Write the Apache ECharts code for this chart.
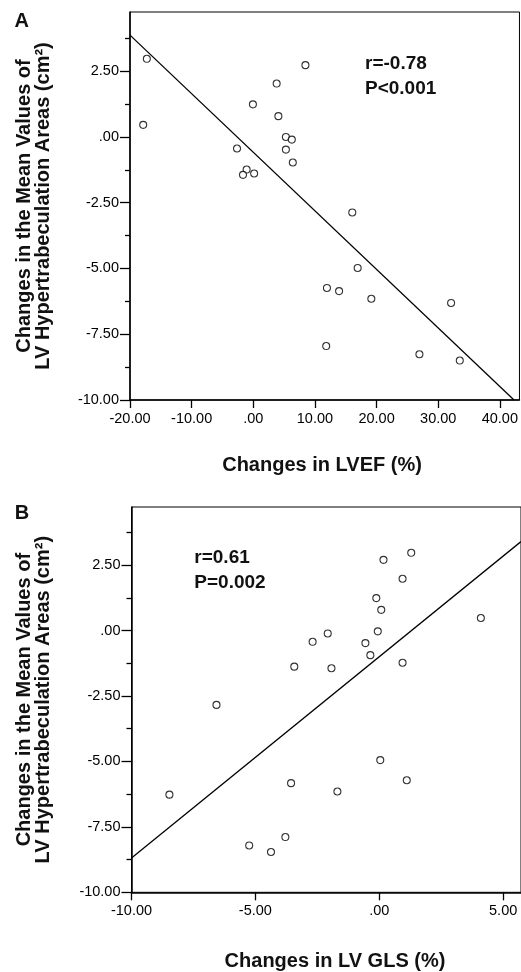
<!DOCTYPE html>
<html>
<head>
<meta charset="utf-8">
<script src="https://cdn.jsdelivr.net/npm/echarts@6/dist/echarts.min.js"></script>
<style>
  html, body { margin: 0; padding: 0; background: #fff; }
  #chart { width: 521px; height: 972px; }
</style>
</head>
<body>
<div id="chart"></div>
<script>
// ---- Data ----
// Panel A: change in LVEF (%) vs change in LV hypertrabeculation area (cm²)
const lvefChange = [-17.27, -17.86, 8.46, 3.79, -0.06, 4.07, 5.29, 6.25, 5.29, -2.64, 6.41, -1.08, -1.67, 0.14, 16.06, 16.93, 11.95, 13.92, 19.15, 32.09, 11.83, 26.95, 33.5];
const areaChangeA = [2.97, 0.46, 2.73, 2.03, 1.24, 0.79, 0.0, -0.10, -0.48, -0.44, -0.97, -1.24, -1.44, -1.39, -2.87, -4.98, -5.74, -5.86, -6.15, -6.31, -7.95, -8.26, -8.50];
// Panel B: change in LV GLS (%) vs change in LV hypertrabeculation area (cm²)
const glsChange = [1.29, 0.17, 0.94, -0.12, 0.08, 4.10, -0.06, -2.08, -2.69, -0.56, -0.36, -3.43, -1.93, 0.94, -6.57, 0.04, -3.56, -1.69, 1.11, -8.47, -5.25, -4.37, -3.79];
const areaChangeB = [2.97, 2.70, 1.98, 1.24, 0.79, 0.48, -0.03, -0.11, -0.43, -0.48, -0.94, -1.38, -1.44, -1.23, -2.84, -4.95, -5.83, -6.15, -5.72, -6.27, -8.21, -8.46, -7.89];
// Fitted regression line end points (x, y)
const fitAx = [-20, 42.3];
const fitAy = [3.87, -10];
const fitBx = [-10, 5.72];
const fitBy = [-8.69, 3.40];
// Axis tick values
const yLabelTicks = [-10, -7.5, -5, -2.5, 0, 2.5];
const yMinorTicks = [-8.75, -6.25, -3.75, -1.25, 1.25, 3.75];
const xTicksA = [-20, -10, 0, 10, 20, 30, 40];
const xTicksB = [-10, -5, 0, 5];
// Texts
const yTitle = 'Changes in the Mean Values of\nLV Hypertrabeculation Areas (cm²)';
const xTitleA = 'Changes in LVEF (%)';
const xTitleB = 'Changes in LV GLS (%)';
const statA = 'r=-0.78\nP<0.001';
const statB = 'r=0.61\nP=0.002';

// ---- Chart ----
const FONT = '"Liberation Sans", Arial, Helvetica, sans-serif';
const fmt = v => (Math.abs(v) < 1e-9 ? '.00' : v.toFixed(2));
const zip = (a, b) => a.map((v, i) => [v, b[i]]);

function xAxisDef(grid, min, max, ticks, name, pad, gap) {
  return {
    type: 'value', gridIndex: grid, min: min, max: max,
    position: 'bottom',
    axisLine: { show: true, onZero: false, lineStyle: { color: '#000', width: 1.5 } },
    axisTick: { show: true, length: 8, customValues: ticks, lineStyle: { color: '#000', width: 1.3 } },
    axisLabel: { show: true, customValues: ticks, formatter: fmt, margin: 11,
      color: '#000', fontFamily: FONT, fontSize: 14.5 },
    splitLine: { show: false },
    name: name, nameLocation: 'middle', nameGap: gap,
    nameTextStyle: { color: '#111', fontFamily: FONT, fontSize: 20, fontWeight: 'bold', padding: pad }
  };
}
function yAxisDef(grid, max, gap) {
  return {
    type: 'value', gridIndex: grid, min: -10, max: max, position: 'left',
    axisLine: { show: true, onZero: false, lineStyle: { color: '#000', width: 1.5 } },
    axisTick: { show: true, length: 10, customValues: yLabelTicks, lineStyle: { color: '#000', width: 1.3 } },
    axisLabel: { show: true, customValues: yLabelTicks, formatter: fmt, margin: 11,
      color: '#000', fontFamily: FONT, fontSize: 14.5 },
    splitLine: { show: false },
    name: yTitle, nameLocation: 'middle', nameGap: gap, nameRotate: 90,
    nameTextStyle: { color: '#111', fontFamily: FONT, fontSize: 20, fontWeight: 'bold',
      lineHeight: 19, align: 'center' }
  };
}
function yMinorDef(grid, max) {
  return {
    type: 'value', gridIndex: grid, min: -10, max: max, position: 'left',
    axisLine: { show: false, onZero: false },
    axisTick: { show: true, length: 5, customValues: yMinorTicks, lineStyle: { color: '#000', width: 1.3 } },
    axisLabel: { show: false },
    splitLine: { show: false }
  };
}
const pointStyle = { color: '#fff', borderColor: '#000', borderWidth: 1.1 };

const option = {
  animation: false,
  backgroundColor: '#fff',
  textStyle: { fontFamily: FONT },
  grid: [
    { left: 130, top: 12, width: 393, height: 388, show: true, borderColor: '#000', borderWidth: 1, backgroundColor: '#fff' },
    { left: 131.5, top: 507, width: 391.5, height: 386, show: true, borderColor: '#000', borderWidth: 1, backgroundColor: '#fff' }
  ],
  xAxis: [
    xAxisDef(0, -20, 43.18, xTicksA, xTitleA, [0, 5.4, 0, 0], 55),
    xAxisDef(1, -10, 5.72, xTicksB, xTitleB, [0, 0, 0, 17.5], 58.7)
  ],
  yAxis: [
    yAxisDef(0, 4.75, 76.75),
    yMinorDef(0, 4.75),
    yAxisDef(1, 4.72, 78.25),
    yMinorDef(1, 4.72)
  ],
  series: [
    { type: 'line', xAxisIndex: 0, yAxisIndex: 0, data: zip(fitAx, fitAy), showSymbol: false,
      lineStyle: { color: '#000', width: 1.3 }, silent: true, z: 2 },
    { type: 'scatter', xAxisIndex: 0, yAxisIndex: 0, data: zip(lvefChange, areaChangeA),
      symbol: 'circle', symbolSize: 7, itemStyle: pointStyle, z: 3 },
    { type: 'line', xAxisIndex: 1, yAxisIndex: 2, data: zip(fitBx, fitBy), showSymbol: false,
      lineStyle: { color: '#000', width: 1.3 }, silent: true, z: 2 },
    { type: 'scatter', xAxisIndex: 1, yAxisIndex: 2, data: zip(glsChange, areaChangeB),
      symbol: 'circle', symbolSize: 7, itemStyle: pointStyle, z: 3 }
  ],
  graphic: [
    { type: 'text', x: 21.7, y: 21.7, style: { text: 'A', font: 'bold 20px ' + FONT, fill: '#111', textAlign: 'center', textVerticalAlign: 'middle' } },
    { type: 'text', x: 22, y: 513.3, style: { text: 'B', font: 'bold 20px ' + FONT, fill: '#111', textAlign: 'center', textVerticalAlign: 'middle' } },
    { type: 'text', x: 365, y: 51, z: 10, style: { text: statA, font: 'bold 19px ' + FONT, fill: '#111', lineHeight: 25, textAlign: 'left', textVerticalAlign: 'top' } },
    { type: 'text', x: 194.3, y: 544.6, z: 10, style: { text: statB, font: 'bold 19px ' + FONT, fill: '#111', lineHeight: 25.4, textAlign: 'left', textVerticalAlign: 'top' } }
  ]
};

const chart = echarts.init(document.getElementById('chart'), null, { renderer: 'canvas' });
chart.setOption(option);
</script>
</body>
</html>
